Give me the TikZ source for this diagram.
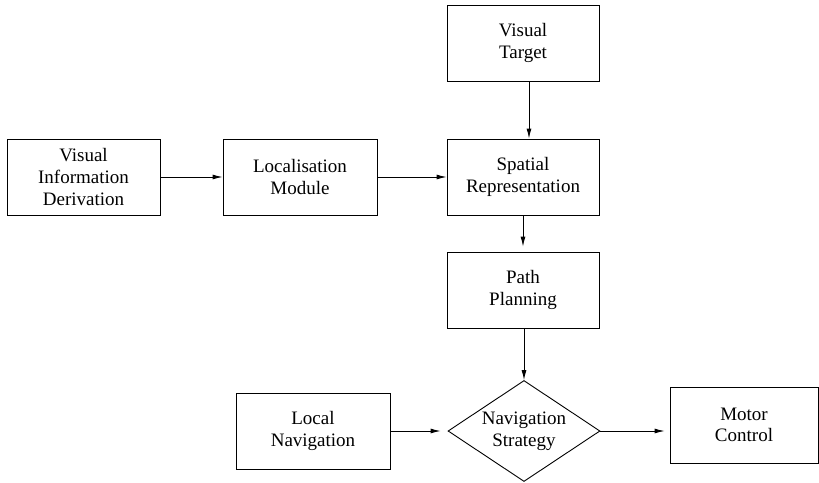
\documentclass[tikz,border=0pt]{standalone}
\usepackage{fontspec}
\setmainfont{Liberation Serif}
\usetikzlibrary{shapes.geometric,arrows.meta}
\begin{document}
\begin{tikzpicture}[x=1pt,y=-1pt,
  every node/.style={font=\fontsize{19}{21.7}\selectfont, align=center, inner sep=0pt},
  block/.style={draw, line width=0.9pt, minimum height=76pt},
  choice/.style={draw, diamond, aspect=1.5, line width=0.9pt, minimum width=152pt, minimum height=101pt},
  flow/.style={line width=0.9pt, -{Latex[length=10pt,width=5pt]}}]
\useasboundingbox (0,0) rectangle (819,482);
% boxes of the pipeline
\node[block, minimum width=153pt] (vid)   at (83.5,177) {Visual\\Information\\Derivation};
\node[block, minimum width=154pt] (loc)   at (300,177)  {Localisation\\Module};
\node[block, minimum width=152pt] (spat)  at (523,177)  {Spatial\\Representation};
\node[block, minimum width=152pt] (vt)    at (523,43)   {Visual\\Target};
\node[block, minimum width=152pt] (path)  at (523,290)  {Path\\Planning};
\node[block, minimum width=154pt] (lnav)  at (313,431)  {Local\\Navigation};
\node[choice] (strat) at (524,431) {Navigation\\Strategy};
\node[block, minimum width=148pt] (motor) at (744,425)  {Motor\\Control};
% connectors
\draw[flow] (vid) -- (loc);
\draw[flow] (loc) -- (spat);
\draw[flow] ([xshift=6pt]vt.south) -- ([xshift=6pt]spat.north);
\draw[flow, shorten >=5pt] (spat) -- (path);
\draw[flow] (path.south -| strat.north) -- (strat.north);
\draw[flow, shorten >=7pt] (lnav.east) -- (lnav.east -| strat.west);
\draw[flow, shorten >=5pt] (strat.east) -- (strat.east -| motor.west);
\end{tikzpicture}
\end{document}
